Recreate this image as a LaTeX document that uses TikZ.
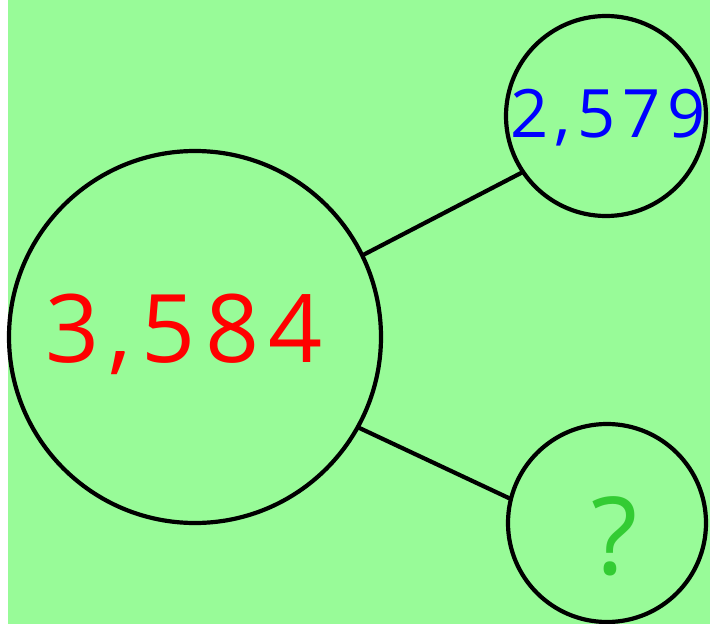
\documentclass[tikz,border=0pt]{standalone}
\usepackage{fontspec}
\setmainfont{Open Sans}
\newfontfamily\digitfont[LetterSpace=10]{Open Sans}
\definecolor{bggreen}{HTML}{98FB98}
\definecolor{qgreen}{HTML}{33CC33}
\begin{document}
\begin{tikzpicture}[x=1bp,y=-1bp,
  ring/.style={circle,draw=black,line width=4.2bp,inner sep=0pt,outer sep=0pt},
  link/.style={draw=black,line width=4.2bp},
  num/.style={anchor=base,inner sep=0pt,outer sep=0pt}]
\useasboundingbox (0,0) rectangle (710,624);
\fill[white] (0,0) rectangle (710,624);
\fill[bggreen] (8,0) rectangle (710,624);
\node[ring,minimum size=372bp] (big) at (195,337) {};
\node[ring,minimum size=200bp] (tr) at (606,116) {};
\node[ring,minimum size=198bp] (br) at (607,523) {};
\draw[link] (big.26.4) -- (tr.214.5);
\draw[link] (big.-29.6) -- (br.166.7);
\node[num,text=red,font=\digitfont\fontsize{95}{95}\selectfont] (rt) at (184,362) {3,584};
\node[num,text=blue,font=\digitfont\fontsize{67}{67}\selectfont] (bt) at (608,138) {2,579};
\node[num,text=qgreen,font=\fontsize{108}{108}\selectfont] (qt) at (615,574) {?};
\end{tikzpicture}
\end{document}
